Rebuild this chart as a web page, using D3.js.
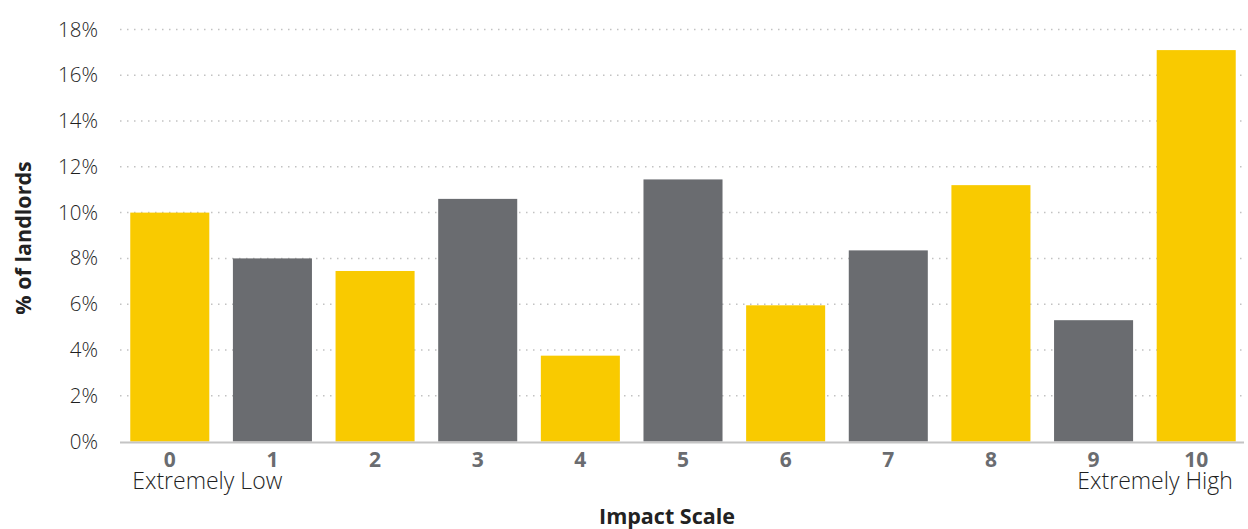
<!DOCTYPE html>
<html>
<head>
<meta charset="utf-8">
<script src="https://cdn.jsdelivr.net/npm/d3@7"></script>
<style>
  html, body { margin: 0; padding: 0; background: #fff; }
  svg { display: block; font-family: "Open Sans", "Noto Sans", sans-serif; }
</style>
</head>
<body>
<svg id="chart" width="1248" height="529"></svg>
<script>
// Impact scale categories and share of landlords (%)
const categories = ["0", "1", "2", "3", "4", "5", "6", "7", "8", "9", "10"];
const values = [10.0, 8.0, 7.45, 10.6, 3.75, 11.45, 5.95, 8.35, 11.2, 5.3, 17.1];
const barColors = ["#F9CA00", "#6A6C70", "#F9CA00", "#6A6C70", "#F9CA00", "#6A6C70",
                   "#F9CA00", "#6A6C70", "#F9CA00", "#6A6C70", "#F9CA00"];
const yTicks = [0, 2, 4, 6, 8, 10, 12, 14, 16, 18];
const endLabels = ["Extremely Low", "Extremely High"];

const FONT = '"Open Sans", "Noto Sans", sans-serif';
const svg = d3.select("#chart");
const margin = { left: 120, right: 2, top: 29.5, bottom: 87.5 };
const W = 1248, H = 529;

const x = d3.scaleBand()
  .domain(categories)
  .range([margin.left, W - margin.right])
  .paddingInner(0.23)
  .paddingOuter(0.1);

const y = d3.scaleLinear()
  .domain([0, 18])
  .range([H - margin.bottom, margin.top]);

// dotted gridlines
svg.append("g")
  .selectAll("line")
  .data(yTicks.filter(d => d > 0))
  .join("line")
  .attr("x1", margin.left)
  .attr("x2", W - margin.right - 2)
  .attr("y1", d => y(d))
  .attr("y2", d => y(d))
  .attr("stroke", "#c2c2c2")
  .attr("stroke-width", 1.5)
  .attr("stroke-dasharray", "1.5,5.5");

// y axis labels
const yAxis = d3.axisLeft(y)
  .tickValues(yTicks)
  .tickSize(0)
  .tickPadding(0)
  .tickFormat(d => d + "%");
const gy = svg.append("g")
  .attr("transform", `translate(${margin.left - 22},0)`)
  .call(yAxis)
  .attr("font-family", FONT);
gy.select(".domain").remove();
gy.selectAll("text")
  .attr("fill", "#1f1f1f")
  .attr("font-size", 20.5)
  .attr("font-weight", 300);

// bars
svg.append("g")
  .selectAll("rect")
  .data(values)
  .join("rect")
  .attr("x", (d, i) => x(categories[i]))
  .attr("width", x.bandwidth())
  .attr("y", d => y(d))
  .attr("height", d => y(0) - y(d))
  .attr("fill", (d, i) => barColors[i]);

// baseline
svg.append("line")
  .attr("x1", margin.left)
  .attr("x2", W - margin.right - 2)
  .attr("y1", y(0) + 1)
  .attr("y2", y(0) + 1)
  .attr("stroke", "#c4c4c4")
  .attr("stroke-width", 2);

// x axis category labels
const xAxis = d3.axisBottom(x).tickSize(0).tickPadding(0);
const gx = svg.append("g")
  .attr("transform", `translate(0,${y(0) + 25})`)
  .call(xAxis)
  .attr("font-family", FONT);
gx.select(".domain").remove();
gx.selectAll("text")
  .attr("dy", "0")
  .attr("fill", "#6A6C70")
  .attr("font-size", 21)
  .attr("font-weight", 700);

// end-of-scale descriptions
svg.append("text")
  .attr("x", x(categories[0]) + 2)
  .attr("y", y(0) + 47)
  .attr("fill", "#1f1f1f")
  .attr("font-size", 23)
  .attr("font-weight", 300)
  .text(endLabels[0]);
svg.append("text")
  .attr("x", x(categories[categories.length - 1]) + x.bandwidth() - 3)
  .attr("y", y(0) + 47)
  .attr("text-anchor", "end")
  .attr("fill", "#1f1f1f")
  .attr("font-size", 23)
  .attr("font-weight", 300)
  .text(endLabels[1]);

// axis titles
svg.append("text")
  .attr("x", 667)
  .attr("y", 524)
  .attr("text-anchor", "middle")
  .attr("fill", "#222")
  .attr("font-size", 21.5)
  .attr("font-weight", 700)
  .text("Impact Scale");
svg.append("text")
  .attr("transform", "translate(31,238) rotate(-90)")
  .attr("text-anchor", "middle")
  .attr("fill", "#222")
  .attr("font-size", 21.5)
  .attr("font-weight", 700)
  .text("% of landlords");
</script>
</body>
</html>
